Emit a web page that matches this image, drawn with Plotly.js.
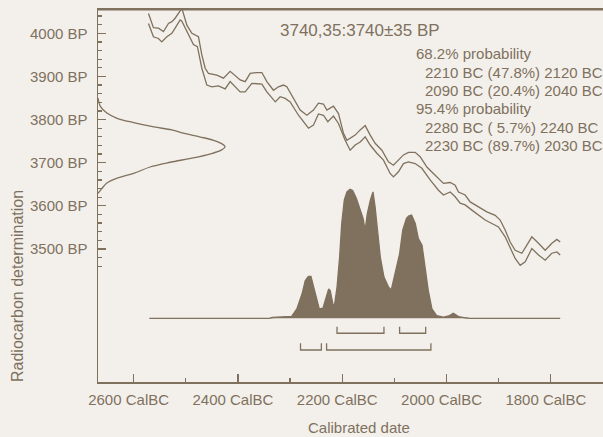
<!DOCTYPE html>
<html>
<head>
<meta charset="utf-8">
<script src="https://cdn.plot.ly/plotly-3.0.1.min.js"></script>
<style>
  html, body { margin: 0; padding: 0; background: #f3f0ec; }
  #chart { width: 603px; height: 437px; }
</style>
</head>
<body>
<div id="chart"></div>
<script>
// ---- Calibration curve (upper and lower 1-sigma envelope), cal BC vs BP ----
const hiYears = [2571.5, 2562, 2552.4, 2542.8, 2533.2, 2526.7, 2520.4, 2510.8, 2507.5, 2497.9, 2488.3, 2475.7, 2469.2, 2462.8, 2456.5, 2440.4, 2427.7, 2414.9, 2405.3, 2395.7, 2386.1, 2376.5, 2363.7, 2354.1, 2344.5, 2331.9, 2322.3, 2312.7, 2306.2, 2293.5, 2280.7, 2267.8, 2255.2, 2245.6, 2236, 2229.5, 2216.8, 2207.2, 2197.6, 2191.1, 2184.8, 2175.2, 2165.6, 2156, 2146.4, 2136.9, 2124, 2111.4, 2101.8, 2092.2, 2082.6, 2073, 2060.2, 2050.6, 2037.7, 2021.8, 2005.9, 1993, 1983.5, 1977.1, 1964.3, 1954.7, 1945.1, 1935.5, 1922.7, 1906.8, 1897.2, 1887.6, 1878, 1868.4, 1855.6, 1846, 1836.4, 1823.7, 1810.9, 1798, 1788.4, 1782.1];
const hiBP = [4046, 4013, 4012, 4004, 4023, 4027, 4035, 4054, 4058, 4019, 4000, 3992, 3950, 3919, 3907, 3903, 3896, 3912, 3903, 3892, 3888, 3907, 3909, 3909, 3888, 3868, 3876, 3880, 3876, 3849, 3822, 3810, 3822, 3838, 3836, 3822, 3831, 3814, 3768, 3752, 3756, 3764, 3776, 3786, 3764, 3745, 3729, 3702, 3694, 3706, 3718, 3724, 3724, 3714, 3690, 3671, 3652, 3654, 3648, 3632, 3625, 3609, 3602, 3594, 3586, 3578, 3567, 3544, 3516, 3497, 3490, 3509, 3528, 3513, 3497, 3513, 3522, 3516];
const loYears = [2571.5, 2562, 2552.4, 2546, 2536.3, 2526.7, 2520.4, 2510.8, 2507.5, 2494.8, 2485.3, 2477.7, 2469.2, 2459.6, 2450, 2437.3, 2424.5, 2414.9, 2405.3, 2395.7, 2386.1, 2373.3, 2354.1, 2344.5, 2328.3, 2319, 2309.4, 2299.8, 2283.9, 2264.7, 2255.2, 2245.6, 2236, 2227.6, 2216.8, 2207.2, 2194.4, 2184.8, 2175.2, 2165.6, 2156, 2146.4, 2133.6, 2120.9, 2108.1, 2101.8, 2092.2, 2082.6, 2073, 2060.2, 2047.3, 2031.4, 2015.5, 2005.9, 1993, 1983.5, 1973.9, 1964.3, 1951.4, 1938.8, 1925.9, 1913.1, 1900.4, 1887.6, 1878, 1868.4, 1858.8, 1849.2, 1836.4, 1823.7, 1810.9, 1798, 1788.4, 1782.1];
const loBP = [4023, 3992, 3988, 3980, 3992, 4000, 4012, 4031, 4028, 3996, 3974, 3969, 3919, 3880, 3876, 3878, 3871, 3888, 3876, 3864, 3864, 3884, 3882, 3864, 3841, 3853, 3849, 3841, 3810, 3780, 3787, 3813, 3810, 3795, 3808, 3791, 3752, 3729, 3741, 3748, 3760, 3741, 3722, 3706, 3675, 3667, 3679, 3698, 3702, 3698, 3687, 3660, 3636, 3625, 3632, 3621, 3606, 3602, 3590, 3578, 3567, 3559, 3551, 3528, 3501, 3478, 3462, 3470, 3501, 3486, 3474, 3490, 3493, 3486];

// ---- Radiocarbon measurement distribution (relative density) ----
const measBP = [3850, 3830, 3815, 3803, 3793, 3783, 3776, 3768, 3760, 3752, 3743, 3737, 3729, 3720, 3710, 3701, 3690, 3675, 3664, 3653, 3640, 3629];
const measDens = [0, 0.02, 0.07, 0.15, 0.28, 0.44, 0.58, 0.68, 0.8, 0.91, 0.98, 1.0, 0.97, 0.88, 0.73, 0.57, 0.41, 0.28, 0.15, 0.07, 0.03, 0];

// ---- Calibrated probability distribution (relative) ----
const probYears = [2570, 2340, 2334, 2313, 2302, 2297, 2287, 2277, 2271, 2265, 2260, 2255, 2249, 2244, 2237, 2233, 2226, 2223, 2218, 2215, 2210, 2205, 2201, 2196, 2191, 2185, 2180, 2173, 2167, 2160, 2156, 2152, 2146, 2141, 2137, 2132, 2127, 2120, 2111, 2106, 2099, 2090, 2084, 2077, 2073, 2067, 2060, 2054, 2047, 2041, 2035, 2028, 2019, 2006, 1996, 1987, 1977, 1964, 1955, 1782];
const probVals = [0, 0, 0.006, 0.008, 0.01, 0.015, 0.073, 0.19, 0.29, 0.325, 0.325, 0.24, 0.138, 0.073, 0.078, 0.138, 0.228, 0.215, 0.112, 0.099, 0.24, 0.475, 0.735, 0.917, 0.98, 1.0, 0.99, 0.93, 0.865, 0.774, 0.683, 0.81, 0.917, 0.98, 0.865, 0.657, 0.475, 0.32, 0.24, 0.22, 0.345, 0.5, 0.683, 0.774, 0.792, 0.8, 0.735, 0.618, 0.566, 0.397, 0.215, 0.073, 0.021, 0.008, 0.018, 0.039, 0.013, 0.004, 0, 0];

// ---- Probability ranges (from, to in cal BC) ----
const range68 = [[2210, 2120], [2090, 2040]];
const range95 = [[2280, 2240], [2230, 2030]];

// ---- Axis ticks and text ----
const xTickVals = [2600, 2400, 2200, 2000, 1800];
const xTickText = ["2600 CalBC", "2400 CalBC", "2200 CalBC", "2000 CalBC", "1800 CalBC"];
const xMinorVals = [2500, 2300, 2100, 1900, 1700];
const yTickVals = [3500, 3600, 3700, 3800, 3900, 4000];
const yTickText = ["3500 BP", "3600 BP", "3700 BP", "3800 BP", "3900 BP", "4000 BP"];
const titleText = "3740,35:3740±35 BP";
const probLines = [
  "68.2% probability",
  "  2210 BC (47.8%) 2120 BC",
  "  2090 BC (20.4%) 2040 BC",
  "95.4% probability",
  "  2280 BC ( 5.7%) 2240 BC",
  "  2230 BC (89.7%) 2030 BC"
];

const INK = "#7f715d";
const BG = "#f3f0ec";
const FONT = "Liberation Sans, Arial, sans-serif";

const X_RANGE = [2668.3, 1700];
const Y_RANGE = [3191.4, 4056.4];

const yMinorVals = [];
for (let v = 3460; v <= 4040; v += 20) if (v % 100 !== 0) yMinorVals.push(v);

const W = 603, H = 437, ML = 98, MR = 0, MT = 9, MB = 55;
const PW = W - ML - MR, PH = H - MT - MB;
const px = x => (x - ML) / PW;
const py = y => (H - MB - y) / PH;

const traces = [];
// top frame edge of the plot area, along the axis range limit
traces.push({ x: X_RANGE, y: [Y_RANGE[1], Y_RANGE[1]], type: "scatter", mode: "lines", line: { color: INK, width: 3 }, hoverinfo: "skip" });
traces.push({ x: hiYears, y: hiBP, type: "scatter", mode: "lines", line: { color: INK, width: 1.3 }, hoverinfo: "skip" });
traces.push({ x: loYears, y: loBP, type: "scatter", mode: "lines", line: { color: INK, width: 1.3 }, hoverinfo: "skip" });
traces.push({ x: measDens, y: measBP, xaxis: "x2", yaxis: "y", type: "scatter", mode: "lines", line: { color: INK, width: 1.3, shape: "spline" }, hoverinfo: "skip" });
traces.push({ x: probYears, y: probVals, xaxis: "x", yaxis: "y2", type: "scatter", mode: "lines", fill: "tozeroy", fillcolor: INK, line: { color: INK, width: 1.3 }, hoverinfo: "skip" });

function bracket(r, level, tip) {
  return { x: [r[0], r[0], r[1], r[1]], y: [tip, level, level, tip], xaxis: "x", yaxis: "y2", type: "scatter", mode: "lines", line: { color: INK, width: 1.3 }, hoverinfo: "skip" };
}
range68.forEach(r => traces.push(bracket(r, -0.116, -0.065)));
range95.forEach(r => traces.push(bracket(r, -0.246, -0.194)));

const annotations = [];
annotations.push({ text: titleText, xref: "paper", yref: "paper", x: px(360), y: py(30), xanchor: "center", yanchor: "middle", showarrow: false, font: { family: FONT, size: 17, color: INK } });
const lineY = [54, 72.5, 90.5, 108.8, 127, 145.5];
probLines.forEach((t, i) => {
  const indent = t.startsWith("  ");
  annotations.push({ text: t.trim(), xref: "paper", yref: "paper", x: px(indent ? 423 : 414), y: py(lineY[i]), xanchor: "left", yanchor: "middle", showarrow: false, font: { family: FONT, size: 15, color: INK } });
});
annotations.push({ text: "Radiocarbon determination", xref: "paper", yref: "paper", x: px(17.5), y: py(286.5), xanchor: "center", yanchor: "middle", textangle: -90, showarrow: false, font: { family: FONT, size: 16, color: INK } });
annotations.push({ text: "Calibrated date", xref: "paper", yref: "paper", x: px(358.7), y: py(427.7), xanchor: "center", yanchor: "middle", showarrow: false, font: { family: FONT, size: 15, color: INK } });

const layout = {
  width: W, height: H,
  margin: { l: ML, r: MR, t: MT, b: MB, pad: 0 },
  paper_bgcolor: BG, plot_bgcolor: BG,
  showlegend: false,
  font: { family: FONT, size: 15, color: INK },
  xaxis: {
    range: X_RANGE, showgrid: false, zeroline: false,
    showline: true, linecolor: INK, linewidth: 1.5, mirror: true,
    ticks: "inside", ticklen: 8, tickwidth: 1.2, tickcolor: INK,
    tickmode: "array", tickvals: xTickVals, ticktext: xTickText,
    tickfont: { family: FONT, size: 15, color: INK },
    ticklabelstandoff: 3, ticklabelshift: 5,
    minor: { tickmode: "array", tickvals: xMinorVals, ticks: "inside", ticklen: 4, tickwidth: 1.2, tickcolor: INK, showgrid: false }
  },
  yaxis: {
    range: Y_RANGE, showgrid: false, zeroline: false,
    showline: true, linecolor: INK, linewidth: 1.5,
    ticks: "inside", ticklen: 8, tickwidth: 1.2, tickcolor: INK,
    tickmode: "array", tickvals: yTickVals, ticktext: yTickText,
    tickfont: { family: FONT, size: 15, color: INK },
    ticklabelstandoff: 6,
    minor: { tickmode: "array", tickvals: yMinorVals, ticks: "inside", ticklen: 4, tickwidth: 1.2, tickcolor: INK, showgrid: false }
  },
  xaxis2: { overlaying: "x", anchor: "y", range: [0, 3.976], visible: false, showgrid: false, zeroline: false },
  yaxis2: { overlaying: "y", anchor: "x", range: [-0.494, 2.398], visible: false, showgrid: false, zeroline: false },
  annotations: annotations
};

Plotly.newPlot("chart", traces, layout, { staticPlot: true, displayModeBar: false });
</script>
</body>
</html>
